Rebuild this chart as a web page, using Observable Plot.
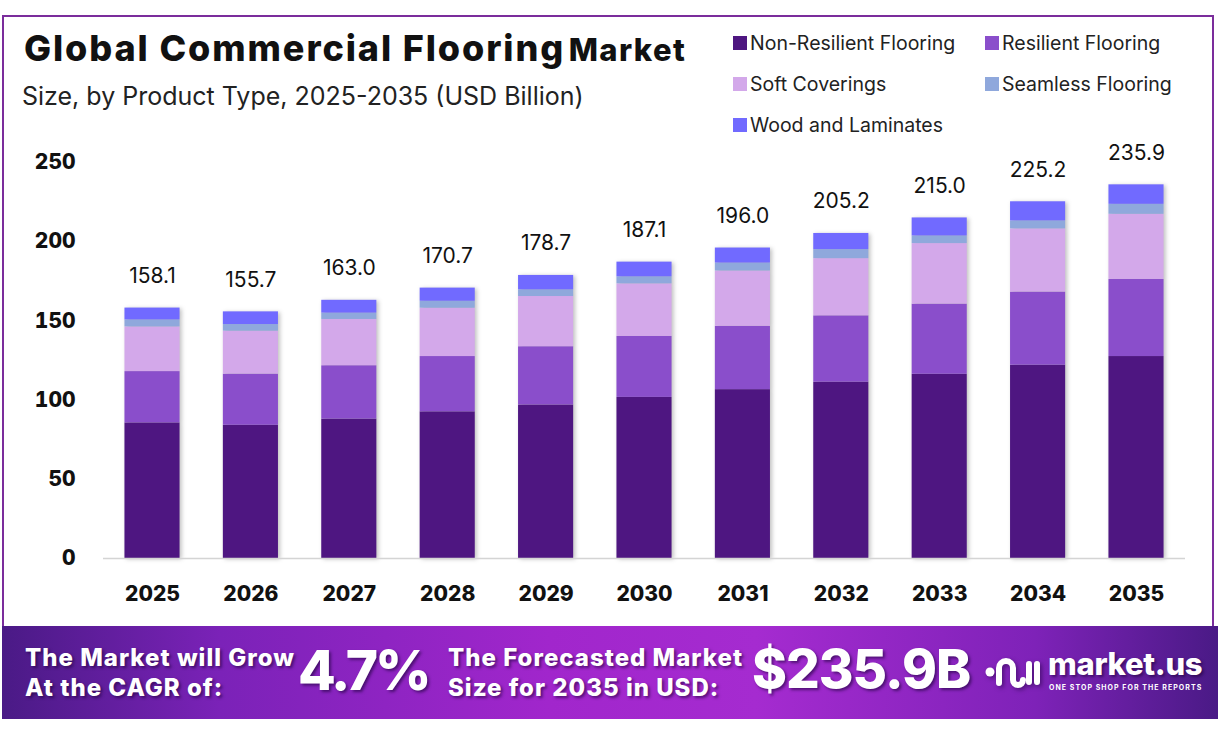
<!DOCTYPE html>
<html>
<head>
<meta charset="utf-8">
<script src="https://cdn.jsdelivr.net/npm/d3@7"></script>
<script src="https://cdn.jsdelivr.net/npm/@observablehq/plot@0.6"></script>
<style>
  html, body { margin: 0; padding: 0; background: #fff; }
  body { width: 1218px; height: 738px; position: relative; overflow: hidden; font-family: Inter, "Open Sans", sans-serif; }
  #frame { position: absolute; left: 2px; top: 15px; width: 1212px; height: 640px; border: 2px solid #7b2d9c; border-bottom: none; box-sizing: border-box; }
  #title { position: absolute; left: 24px; top: 26px; font-weight: 800; color: #111; white-space: nowrap; }
  #title .big { font-size: 36px; letter-spacing: 1.9px; }
  #title .small { font-size: 31px; letter-spacing: 1.4px; }
  #subtitle { position: absolute; left: 22px; top: 81px; font-size: 25px; color: #222; white-space: nowrap; font-weight: 400; letter-spacing: 0px; }
  #legend { position: absolute; left: 733px; top: 31px; width: 480px; }
  .li { position: absolute; font-size: 19.5px; color: #222; white-space: nowrap; display: flex; align-items: center; }
  .li span.sw { display: inline-block; width: 14px; height: 14px; margin-right: 3px; }
  #chart { position: absolute; left: 0; top: 140px; }
  #chart g[aria-label="bar"] { filter: drop-shadow(2px 1px 2px rgba(0,0,0,0.25)); }
  #footer { position: absolute; left: 2px; top: 626px; width: 1216px; height: 93px;
    background: linear-gradient(90deg, #4a1a86 0%, #7b22b8 18%, #a126cc 45%, #a52bd0 62%, #7e22b8 85%, #4a1a86 100%); }
  .ft { position: absolute; color: #fff; font-weight: 800; white-space: nowrap; text-shadow: 2px 2px 3px rgba(30,0,60,0.6); }
  .ft2 { font-size: 24px; line-height: 30px; letter-spacing: 1px; }
  .ftbig { font-size: 55px; letter-spacing: -3px; }
  #logo { position: absolute; left: 983px; top: 24px; filter: drop-shadow(2px 2px 2px rgba(30,0,60,0.5)); }
</style>
</head>
<body>
<div id="frame"></div>
<div id="title"><span class="big">Global Commercial Flooring</span> <span class="small">Market</span></div>
<div id="subtitle">Size, by Product Type, 2025-2035 (USD Billion)</div>
<div id="legend"></div>
<div id="chart"></div>
<div id="footer">
  <div class="ft ft2" style="left:23px; top:17px;">The Market will Grow<br>At the CAGR of:</div>
  <div class="ft ftbig" style="left:296px; top:11px;">4.7%</div>
  <div class="ft ft2" style="left:446px; top:17px;">The Forecasted Market<br>Size for 2035 in USD:</div>
  <div class="ft ftbig" style="left:750px; top:11px; font-size:53px; letter-spacing:-1px;">$235.9B</div>
  <svg id="logo" width="56" height="44" viewBox="0 0 56 44">
    <circle cx="5" cy="22" r="4.5" fill="#fff"/>
    <path d="M14 33 V18 a7 7 0 0 1 14 0 V30 a5 5 0 0 0 10 0" fill="none" stroke="#fff" stroke-width="6" stroke-linecap="round"/>
    <path d="M44 14 V32 M52 14 V32" fill="none" stroke="#fff" stroke-width="6" stroke-linecap="round"/>
  </svg>
  <div class="ft" style="left:1046px; top:19px; font-size:31px; letter-spacing:-0.3px;">market.us</div>
  <div class="ft" style="left:1047px; top:57px; font-size:7px; font-weight:700; letter-spacing:1.05px; text-shadow:none;">ONE STOP SHOP FOR THE REPORTS</div>
</div>
<script>
const years = ["2025","2026","2027","2028","2029","2030","2031","2032","2033","2034","2035"];
const seriesNames = ["Non-Resilient Flooring","Resilient Flooring","Soft Coverings","Seamless Flooring","Wood and Laminates"];
const seriesColors = ["#4e1681","#8a4ecb","#d3a8ea","#8fa8dc","#716aff"];
const nonResilient = [85.6, 84.1, 88.0, 92.6, 96.9, 101.7, 106.6, 111.3, 116.3, 122.0, 127.5];
const resilient    = [32.4, 32.3, 33.7, 34.9, 36.8, 38.5, 40.0, 41.9, 44.3, 46.2, 48.7];
const softCover    = [28.2, 27.1, 29.2, 30.5, 31.7, 33.2, 34.9, 36.1, 38.2, 39.9, 41.1];
const seamless     = [4.4, 4.2, 4.0, 4.4, 4.2, 4.4, 5.0, 5.7, 4.8, 5.0, 6.3];
const woodLam      = [7.5, 8.0, 8.1, 8.3, 9.1, 9.3, 9.5, 10.2, 11.4, 12.1, 12.3];
const totals       = [158.1, 155.7, 163.0, 170.7, 178.7, 187.1, 196.0, 205.2, 215.0, 225.2, 235.9];
const yTicks = [0, 50, 100, 150, 200, 250];

const seriesValues = [nonResilient, resilient, softCover, seamless, woodLam];
const rows = [];
seriesNames.forEach((s, si) => years.forEach((yr, i) => rows.push({year: yr, series: s, value: seriesValues[si][i]})));
const totalRows = years.map((yr, i) => ({year: yr, total: totals[i]}));

const chart = Plot.plot({
  width: 1218,
  height: 480,
  marginLeft: 103,
  marginRight: 33,
  marginTop: 22,
  marginBottom: 62,
  style: {fontFamily: "Inter, sans-serif", background: "transparent", overflow: "visible"},
  x: {domain: years, paddingInner: 0.44, paddingOuter: 0.218, round: false, label: null},
  y: {domain: [0, 250], ticks: yTicks, label: null},
  color: {domain: seriesNames, range: seriesColors},
  marks: [
    Plot.barY(rows, Plot.stackY({x: "year", y: "value", fill: "series", order: seriesNames})),
    Plot.ruleY([0], {stroke: "#d4d4d4", strokeWidth: 1.5}),
    Plot.text(totalRows, {x: "year", y: "total", text: d => d.total.toFixed(1), dy: -32, fontSize: 21, fill: "#111"}),
    Plot.axisX({tickSize: 0, tickPadding: 28, fontSize: 21, fontWeight: 800, fill: "#111", label: null}),
    Plot.axisY({ticks: yTicks, tickSize: 0, tickPadding: 28, fontSize: 21, fontWeight: 800, fill: "#111", label: null})
  ]
});
document.getElementById("chart").appendChild(chart);

// legend
const legend = document.getElementById("legend");
const pos = [[0,0],[252,0],[0,41],[252,41],[0,82]];
seriesNames.forEach((s, i) => {
  const d = document.createElement("div");
  d.className = "li";
  d.style.left = pos[i][0] + "px";
  d.style.top = pos[i][1] + "px";
  d.innerHTML = `<span class="sw" style="background:${seriesColors[i]}"></span>${s}`;
  legend.appendChild(d);
});
</script>
</body>
</html>
